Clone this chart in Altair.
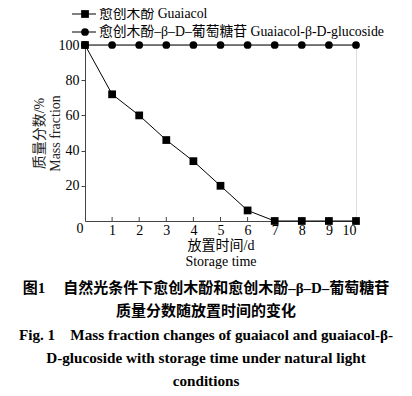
import altair as alt
import pandas as pd

days = [0, 1, 2, 3, 4, 5, 6, 7, 8, 9, 10]
guaiacol = [100, 72, 60, 46, 34, 20, 6, 0, 0, 0, 0]
glucoside = [100, 100, 100, 100, 100, 100, 100, 100, 100, 100, 100]
x_ticks = [1, 2, 3, 4, 5, 6, 7, 8, 9, 10]
y_ticks = [0, 20, 40, 60, 80, 100]
legend_labels = ["愈创木酚  Guaiacol", "愈创木酚–β–D–葡萄糖苷  Guaiacol-β-D-glucoside"]
caption_lines = [
    "图1\u3000\u2009自然光条件下愈创木酚和愈创木酚–β–D–葡萄糖苷",
    "质量分数随放置时间的变化",
    "Fig. 1\u2003Mass fraction changes of guaiacol and guaiacol-β-",
    "D-glucoside with storage time under natural light",
    "conditions",
]
caption_sizes = [15, 15, 15.2, 15.2, 15.2]

FONT = "Liberation Serif, Times New Roman, Noto Sans CJK SC"
W, H = 271, 176

df = pd.DataFrame({
    "day": days * 2,
    "value": guaiacol + glucoside,
    "series": ["Guaiacol"] * len(days) + ["Glucoside"] * len(days),
})

xscale = alt.Scale(domain=[0, 10], nice=False, zero=False)
yscale = alt.Scale(domain=[0, 100], nice=False)

xaxis = alt.Axis(values=x_ticks, ticks=False, labelFont=FONT, labelFontSize=14,
                 labelColor="black", labelPadding=2, domainColor="#444",
                 labelOverlap=False,
                 title=["放置时间/d", "Storage time"], titleFont=FONT,
                 titleFontSize=14, titleFontWeight="normal", titleColor="black",
                 titlePadding=1, grid=False)
yaxis = alt.Axis(values=y_ticks, tickSize=alt.ExprRef("datum.value == 0 ? 0 : 4"),
                 tickColor="#444", labelFont=FONT, labelFontSize=14,
                 labelColor="black", labelPadding=2, labelOverlap=False,
                 labelBaseline=alt.ExprRef("datum.value == 0 ? 'top' : 'middle'"),
                 domainColor="#444",
                 title=["质量分数/%", "Mass fraction"], titleFont=FONT,
                 titleFontSize=14, titleFontWeight="normal", titleColor="#222",
                 titlePadding=-4, grid=False)

X = alt.X("day:Q", scale=xscale, axis=xaxis)
Y = alt.Y("value:Q", scale=yscale, axis=yaxis)

base = alt.Chart(df)

lines = base.mark_line(color="black", strokeWidth=1).encode(x=X, y=Y, detail="series:N")

sq = base.transform_filter(alt.datum.series == "Guaiacol").mark_point(
    shape="square", filled=True, color="black", size=60, opacity=1
).encode(x=X, y=Y)

ci = base.transform_filter(alt.datum.series == "Glucoside").mark_point(
    shape="circle", filled=True, color="black", size=60, opacity=1
).encode(x=X, y=Y)

tick_df = pd.DataFrame({"t": x_ticks})
xticks = alt.Chart(tick_df).mark_rule(color="#444", strokeWidth=1).encode(
    x=alt.X("t:Q", scale=xscale, axis=xaxis), y=alt.value(H - 4), y2=alt.value(H)
)

# legend
leg = []
shapes = ["square", "circle"]
for i, (lab, shp) in enumerate(zip(legend_labels, shapes)):
    yy = -31 + 18 * i
    d = pd.DataFrame({"label": [lab]})
    c = alt.Chart(d)
    leg.append(c.mark_rule(color="black", strokeWidth=1).encode(
        x=alt.value(-13), x2=alt.value(11), y=alt.value(yy)))
    leg.append(c.mark_point(shape=shp, filled=True, color="black", size=60, opacity=1).encode(
        x=alt.value(0), y=alt.value(yy)))
    leg.append(c.mark_text(align="left", baseline="middle", font=FONT, fontSize=13.8,
                           color="black").encode(
        x=alt.value(14), y=alt.value(yy), text="label:N"))

cap_y = [243, 266, 290, 313, 336]
caps = []
for i, line in enumerate(caption_lines):
    caps.append(alt.Chart(pd.DataFrame({"line": [line]})).mark_text(
        align="center", baseline="middle", font=FONT, fontSize=caption_sizes[i],
        fontWeight="bold", color="black").encode(
        x=alt.value(121), y=alt.value(cap_y[i]), text="line:N"))

chart = alt.layer(lines, xticks, sq, ci, *leg, *caps).properties(
    width=W, height=H,
    autosize=alt.AutoSizeParams(type="none"),
    padding={"left": 77, "top": 37, "right": 48, "bottom": 167},
).configure_view(stroke=None).configure_axis(labelOverlap=False).configure(background="white")

chart.save("out.html", embed_options={"renderer": "svg", "actions": False})
